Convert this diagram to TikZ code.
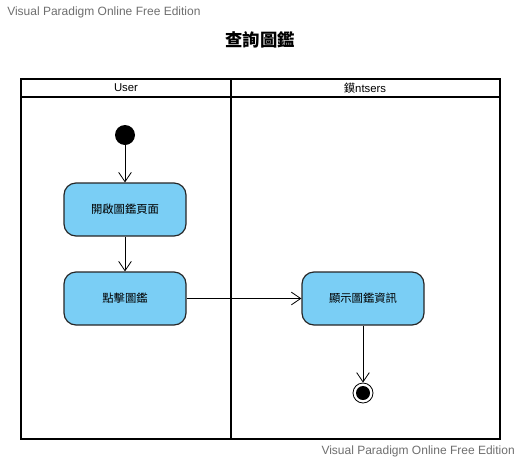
\documentclass[tikz,border=0pt]{standalone}
\usepackage{fontspec}
\setmainfont{Liberation Sans}
\newfontfamily\cjk{Noto Sans CJK TC}
\usetikzlibrary{arrows.meta}
\definecolor{actfill}{RGB}{122,206,245}
\definecolor{wmgray}{RGB}{110,110,110}
\tikzset{
  act/.style={draw=black!85, line width=0.9pt, fill=actfill, rounded corners=9pt,
    minimum width=91.5pt, minimum height=39.75pt, font=\cjk\fontsize{8.5}{9}\selectfont, inner sep=0pt},
  flow/.style={draw, line width=0.6pt, -{Straight Barb[length=7pt,width=9.5pt,line width=0.6pt]}},
  frame/.style={draw, line width=1.5pt},
  hdr/.style={font=\fontsize{8.5}{9}\selectfont},
  wm/.style={text=wmgray, font=\fontsize{9}{10}\selectfont, inner sep=0pt}
}
\begin{document}
\begin{tikzpicture}[x=0.75pt,y=-0.75pt]
\useasboundingbox (0,0) rectangle (521,461);
% watermarks and title
\node[wm, anchor=west] (wm1) at (7,12) {Visual Paradigm Online Free Edition};
\node[wm, anchor=east] (wm2) at (515,451) {Visual Paradigm Online Free Edition};
\node[font=\cjk\bfseries\fontsize{13}{14}\selectfont] (title) at (260,40) {查詢圖鑑};
% swimlanes
\draw[frame] (21,79) rectangle (500,439);
\draw[frame] (21,97) -- (500,97);
\draw[frame] (231,79) -- (231,439);
\node[hdr] (lane1) at (126,88) {User};
\node[hdr] (lane2) at (365,88) {{\cjk 鏌}ntsers};
% nodes
\node[circle, fill=black, minimum size=15pt, inner sep=0pt] (start) at (125,135) {};
\node[act] (a1) at (125,209.5) {開啟圖鑑頁面};
\node[act] (a2) at (125,298.5) {點擊圖鑑};
\node[act] (a3) at (363,298.5) {顯示圖鑑資訊};
\node[circle, draw, line width=0.6pt, minimum size=15pt, inner sep=0pt] (end) at (363,393) {};
\node[circle, fill=black, minimum size=10.5pt, inner sep=0pt] at (end.center) {};
% flows
\draw[flow] (start) -- (a1);
\draw[flow] (a1) -- (a2);
\draw[flow] (a2) -- (a3);
\draw[flow] (a3) -- (end);
\end{tikzpicture}
\end{document}
